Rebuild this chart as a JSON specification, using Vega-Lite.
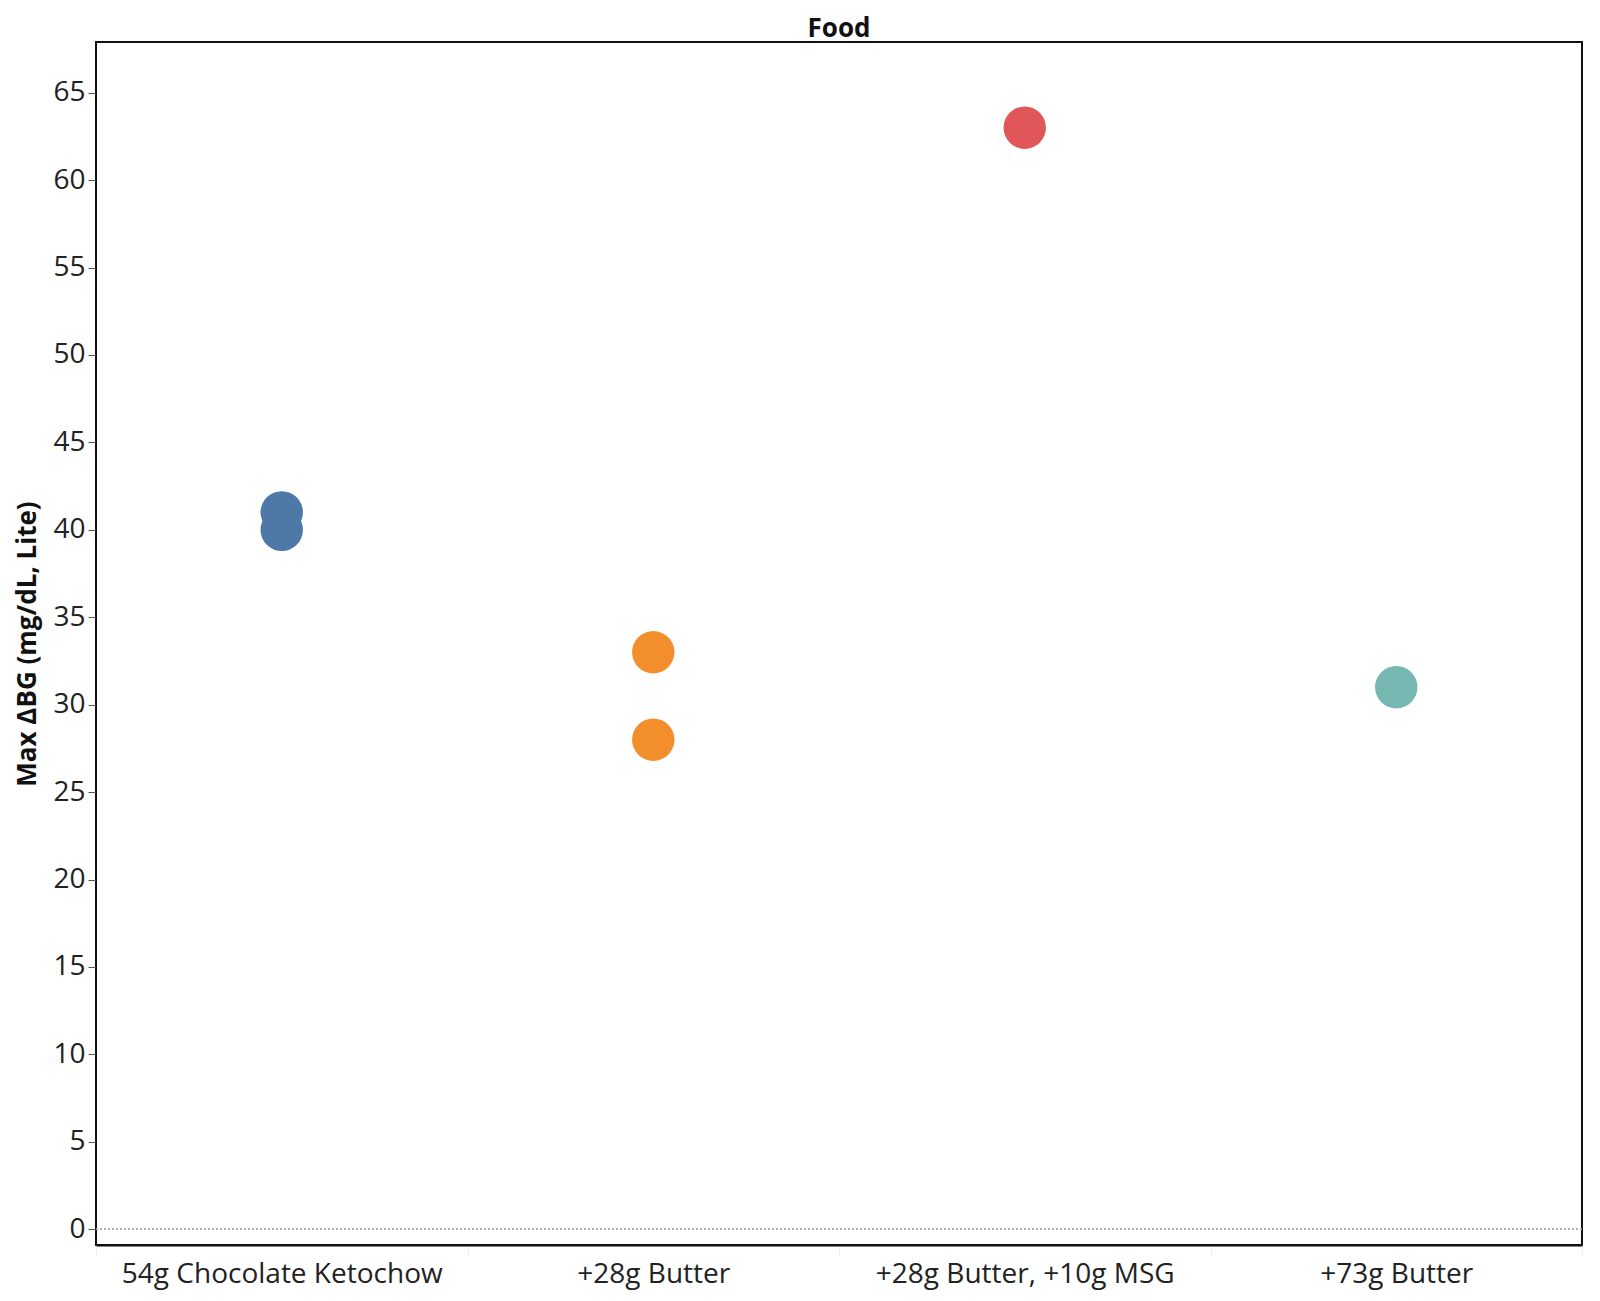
{
  "$schema": "https://vega.github.io/schema/vega-lite/v6.json",
  "width": 1486,
  "height": 1203,
  "autosize": {"type": "none"},
  "padding": {"left": 96, "top": 42, "right": 18, "bottom": 56},
  "background": "white",
  "title": {"text": "Food", "fontSize": 26, "fontWeight": "bold", "font": "Open Sans", "color": "#111111", "offset": 0, "anchor": "middle"},
  "config": {
    "view": {"stroke": "#111111", "strokeWidth": 2},
    "font": "Open Sans"
  },
  "data": {
    "values": [
      {"food": "54g Chocolate Ketochow", "bg": 41},
      {"food": "54g Chocolate Ketochow", "bg": 40},
      {"food": "+28g Butter", "bg": 33},
      {"food": "+28g Butter", "bg": 28},
      {"food": "+28g Butter, +10g MSG", "bg": 63},
      {"food": "+73g Butter", "bg": 31}
    ]
  },
  "layer": [
    {
      "mark": {"type": "rule", "color": "#aaaaaa", "strokeDash": [2, 2], "strokeWidth": 1},
      "encoding": {"y": {"datum": 0, "type": "quantitative", "scale": {"domain": [-0.9, 67.9], "nice": false, "zero": false}}}
    },
    {
      "mark": {"type": "circle", "size": 1800, "opacity": 1},
      "encoding": {
        "x": {
          "field": "food", "type": "nominal",
          "sort": ["54g Chocolate Ketochow", "+28g Butter", "+28g Butter, +10g MSG", "+73g Butter"],
          "scale": {"paddingInner": 0, "paddingOuter": 0},
          "axis": {
            "title": null, "labelAngle": 0, "labelFontSize": 28, "labelColor": "#222222", "labelLimit": 0,
            "labelPadding": 5, "ticks": true, "tickBand": "extent", "tickSize": 10, "tickColor": "#eeeeee",
            "domainColor": "#111111", "domainWidth": 2, "grid": false
          }
        },
        "y": {
          "field": "bg", "type": "quantitative",
          "scale": {"domain": [-0.9, 67.9], "nice": false, "zero": false},
          "axis": {
            "title": "Max ΔBG (mg/dL, Lite)", "titleFontSize": 26, "titleFontWeight": "bold", "titleColor": "#111111",
            "titlePadding": 12,
            "values": [0, 5, 10, 15, 20, 25, 30, 35, 40, 45, 50, 55, 60, 65],
            "labelFontSize": 28, "labelColor": "#222222", "labelPadding": 3,
            "tickSize": 8, "tickColor": "#555555", "domainColor": "#111111", "domainWidth": 1,
            "gridColor": "#eeeeee", "gridWidth": 1
          }
        },
        "color": {
          "field": "food", "type": "nominal", "legend": null,
          "scale": {
            "domain": ["54g Chocolate Ketochow", "+28g Butter", "+28g Butter, +10g MSG", "+73g Butter"],
            "range": ["#4e79a7", "#f28e2b", "#e15759", "#76b7b2"]
          }
        }
      }
    }
  ]
}
